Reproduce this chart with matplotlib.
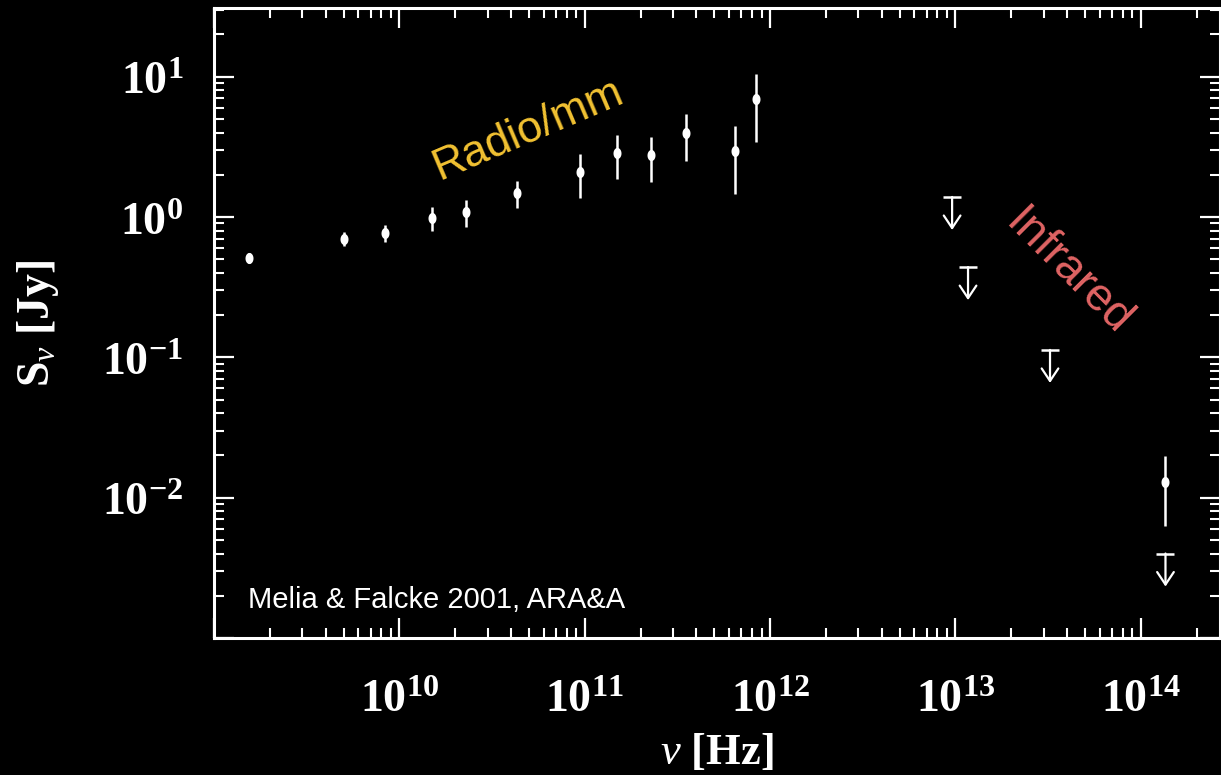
import numpy as np
import matplotlib
matplotlib.use("Agg")
import matplotlib.pyplot as plt
from matplotlib.path import Path
from matplotlib.ticker import LogLocator, FuncFormatter, NullFormatter

# Sgr A* spectrum: detections with 1-sigma errors (Jy)
freq = [1.54e9, 5.0e9, 8.4e9, 1.5e10, 2.3e10, 4.3e10, 9.4e10,
        1.49e11, 2.28e11, 3.53e11, 6.5e11, 8.4e11, 1.36e14]
flux = [0.51, 0.70, 0.77, 0.98, 1.09, 1.48, 2.09,
        2.86, 2.76, 3.96, 2.95, 6.92, 0.013]
flux_err = [0.04, 0.08, 0.11, 0.19, 0.24, 0.32, 0.72,
            1.0, 0.97, 1.45, 1.5, 3.5, 0.0067]

# infrared upper limits (Jy)
freq_ul = [9.6e12, 1.17e13, 3.24e13, 1.36e14]
flux_ul = [1.39, 0.44, 0.113, 0.0040]

# decades that get a label on each axis
x_label_exp = [10, 11, 12, 13, 14]
y_label_exp = [-2, -1, 0, 1]

plt.rcParams["mathtext.fontset"] = "custom"
plt.rcParams["mathtext.rm"] = "Liberation Serif:bold"
plt.rcParams["mathtext.bf"] = "Liberation Serif:bold"
plt.rcParams["mathtext.it"] = "Liberation Serif:italic"

fig = plt.figure(figsize=(12.21, 7.75), dpi=100, facecolor="black")
ax = fig.add_axes([0.1753, 0.1768, 0.8237, 0.8129])
ax.set_facecolor("black")

# slightly tall dot marker
t = np.linspace(0, 2 * np.pi, 40)
dot = Path(np.column_stack([0.72 * np.cos(t), np.sin(t)]))

ax.errorbar(freq, flux, yerr=flux_err, fmt="none", ecolor="white",
            elinewidth=1.8, capsize=0)
ax.plot(freq, flux, linestyle="none", marker=dot, markersize=8,
        color="white", markeredgewidth=0)

# upper limits: bar at the limit plus an open arrow pointing down
ax.plot(freq_ul, flux_ul, linestyle="none", marker="_", markersize=13,
        markeredgewidth=1.8, color="white")
for f, s in zip(freq_ul, flux_ul):
    ax.annotate("", xy=(f, s / 1.72), xytext=(f, s),
                arrowprops=dict(arrowstyle="->,head_length=0.45,head_width=0.3",
                                color="white", lw=1.6, shrinkA=0, shrinkB=0,
                                mutation_scale=20))

ax.set_xscale("log")
ax.set_yscale("log")
ax.set_xlim(1.0e9, 2.67e14)
ax.set_ylim(1.0e-3, 30.9)

for sp in ax.spines.values():
    sp.set_color("white")
    sp.set_linewidth(2.2)


def decade_formatter(shown):
    def fmt(v, pos):
        e = int(round(np.log10(v)))
        return r"$\mathbf{10^{%d}}$" % e if e in shown else ""
    return FuncFormatter(fmt)


for axis, shown in ((ax.xaxis, x_label_exp), (ax.yaxis, y_label_exp)):
    axis.set_major_locator(LogLocator(base=10, numticks=20))
    axis.set_minor_locator(LogLocator(base=10, subs=np.arange(2, 10), numticks=20))
    axis.set_minor_formatter(NullFormatter())
    axis.set_major_formatter(decade_formatter(shown))

ax.tick_params(which="both", direction="in", top=True, right=True, colors="white")
ax.tick_params(which="major", length=14.5, width=1.6, labelsize=33)
ax.tick_params(which="minor", length=7.2, width=1.5)
ax.tick_params(axis="x", which="major", pad=28)
ax.tick_params(axis="y", which="major", pad=22)

ax.set_xlabel(r"$\nu$ [Hz]", fontsize=32, color="white", family="Liberation Serif",
              fontweight="bold", labelpad=7)
ax.set_ylabel(r"S$_\nu$ [Jy]", fontsize=33, color="white", family="Liberation Serif",
              fontweight="bold", labelpad=30)

ax.text(0.312, 0.806, "Radio/mm", transform=ax.transAxes, fontsize=32,
        family="Liberation Sans", color="#f2c232", rotation=23,
        rotation_mode="anchor", ha="center", va="center")
ax.text(0.849, 0.581, "Infrared", transform=ax.transAxes, fontsize=33,
        family="Liberation Sans", color="#e06464", rotation=-45,
        rotation_mode="anchor", ha="center", va="center")
ax.text(0.034, 0.060, "Melia & Falcke 2001, ARA&A", transform=ax.transAxes,
        fontsize=21, family="Liberation Sans", color="white",
        ha="left", va="center")

fig.savefig("out.png", dpi=100, facecolor="black")
